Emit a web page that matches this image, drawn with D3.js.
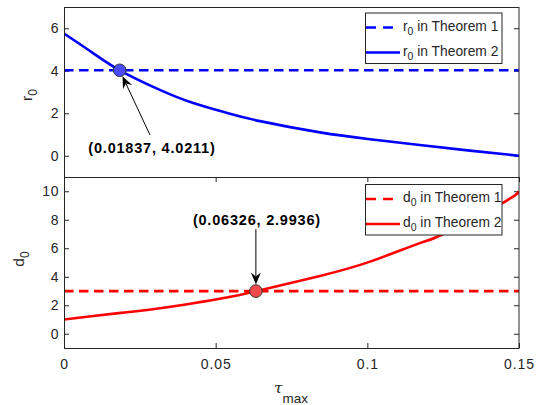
<!DOCTYPE html>
<html lang="en">
<head>
    <meta charset="UTF-8">
    <title>r0 and d0 versus tau_max</title>
    <script src="https://d3js.org/d3.v7.min.js"></script>
    <style>
        body {
            margin: 0;
            background: #fff;
            font-family: "Liberation Sans", Arial, sans-serif;
        }
        svg text {
            fill: #262626;
        }
        .tick text {
            font-size: 14px;
            letter-spacing: 0.9px;
        }
        .tick line, .domain {
            stroke: #262626;
        }
    </style>
</head>
<body>
    <div id="chart"></div>

    <script>
        // values
        const tauR = [0, 0.00967, 0.01837, 0.0316, 0.0426, 0.0536, 0.0646, 0.0844, 0.1009, 0.1173, 0.1338, 0.15];
        const r0Thm2 = [5.75, 4.82, 4.02, 3.10, 2.48, 2.02, 1.63, 1.10, 0.78, 0.506, 0.24, 0.0];
        const r0Thm1 = 4.0211;

        const tauD = [0, 0.00967, 0.0207, 0.0316, 0.0426, 0.0536, 0.06326, 0.0844, 0.1009, 0.1173, 0.125, 0.1445, 0.15];
        const d0Thm2 = [1.0, 1.25, 1.51, 1.79, 2.14, 2.54, 2.99, 4.06, 5.06, 6.36, 7.0, 9.17, 10];
        const d0Thm1 = 2.9936;

        const xTicks = [0, 0.05, 0.1, 0.15];
        const rTicks = [0, 2, 4, 6];
        const dTicks = [0, 2, 4, 6, 8, 10];

        const rCross = [0.01837, 4.0211];
        const dCross = [0.06326, 2.9936];
        const rLabelAt = [0.0290, 0.15];   // where the bold label sits (data units)
        const rTailAt = [0.02835, 0.976];
        const dLabelAt = [0.0636, 7.64];
        const dTailAt = [0.06326, 7.34];

        const width = 540, height = 405;
        const left = 64, right = 519;
        const tickLen = 5;

        const svg = d3.select("#chart").append("svg")
            .attr("width", width)
            .attr("height", height);

        const x = d3.scaleLinear().domain([0, 0.15]).range([left, right]);
        const yR = d3.scaleLinear().domain([-1, 7]).range([177, 7]);
        const yD = d3.scaleLinear().domain([-1, 11]).range([348, 177]);

        function drawPanel(y, ticks, showX) {
            const g = svg.append("g");
            const [y0, y1] = y.range();

            g.append("g")
                .attr("transform", `translate(${left},0)`)
                .call(d3.axisLeft(y).tickValues(ticks).tickSize(-tickLen).tickPadding(4.5).tickFormat(d3.format("d")))
                .call(a => a.select(".domain").remove());
            g.append("g")
                .attr("transform", `translate(${right},0)`)
                .call(d3.axisRight(y).tickValues(ticks).tickSize(-tickLen).tickFormat(""))
                .call(a => a.select(".domain").remove());

            if (showX) {
                g.append("g")
                    .attr("transform", `translate(0,${y0})`)
                    .call(d3.axisBottom(x).tickValues(xTicks).tickSize(-tickLen).tickPadding(11)
                        .tickFormat(d => d === 0 ? "0" : String(d)))
                    .call(a => a.select(".domain").remove());
                g.append("g")
                    .attr("transform", `translate(0,${y1})`)
                    .call(d3.axisTop(x).tickValues(xTicks).tickSize(-tickLen).tickFormat(""))
                    .call(a => a.select(".domain").remove());
            }
            g.selectAll(".tick text").style("fill", "#262626");
            return g;
        }

        drawPanel(yR, rTicks, false);
        drawPanel(yD, dTicks, true);

        svg.append("defs").selectAll("clipPath")
            .data([["clipR", yR], ["clipD", yD]])
            .join("clipPath")
            .attr("id", d => d[0])
            .append("rect")
            .attr("x", left)
            .attr("y", d => d[1].range()[1])
            .attr("width", right - left)
            .attr("height", d => d[1].range()[0] - d[1].range()[1]);

        function drawSeries(y, tau, vals, flat, color, clip) {
            const g = svg.append("g").attr("clip-path", `url(#${clip})`);
            g.append("line")
                .attr("x1", x(0)).attr("x2", x(0.15))
                .attr("y1", y(flat)).attr("y2", y(flat))
                .attr("stroke", color)
                .attr("stroke-width", 2.6)
                .attr("stroke-dasharray", "9.5,5.5");
            const line = d3.line()
                .x((d, i) => x(tau[i]))
                .y(d => y(d))
                .curve(d3.curveNatural);
            g.append("path")
                .datum(vals)
                .attr("d", line)
                .attr("fill", "none")
                .attr("stroke", color)
                .attr("stroke-width", 2.6);
        }

        drawSeries(yR, tauR, r0Thm2, r0Thm1, "#0000ff", "clipR");
        drawSeries(yD, tauD, d0Thm2, d0Thm1, "#ff0000", "clipD");

        // arrow with a notched head, tip stops at the marker edge
        function arrow(tail, centre, gap) {
            const dx = tail[0] - centre[0], dy = tail[1] - centre[1];
            const len = Math.hypot(dx, dy);
            const ux = dx / len, uy = dy / len;
            const tip = [centre[0] + ux * gap, centre[1] + uy * gap];
            const hl = 12, hw = 5, notch = 8;
            const px = -uy, py = ux;
            svg.append("line")
                .attr("x1", tail[0]).attr("y1", tail[1])
                .attr("x2", tip[0] + ux * notch).attr("y2", tip[1] + uy * notch)
                .attr("stroke", "#000").attr("stroke-width", 1);
            const p = [
                tip,
                [tip[0] + ux * hl + px * hw, tip[1] + uy * hl + py * hw],
                [tip[0] + ux * notch, tip[1] + uy * notch],
                [tip[0] + ux * hl - px * hw, tip[1] + uy * hl - py * hw]
            ];
            svg.append("path")
                .attr("d", "M" + p.map(q => q.join(",")).join("L") + "Z")
                .attr("fill", "#000");
        }

        function annotate(y, cross, labelAt, tailAt, fill) {
            const c = [x(cross[0]), y(cross[1])];
            arrow([x(tailAt[0]), y(tailAt[1])], c, 6.5);
            svg.append("circle")
                .attr("cx", c[0]).attr("cy", c[1]).attr("r", 6.3)
                .attr("fill", fill)
                .attr("stroke", "#333")
                .attr("stroke-width", 1);
            svg.append("text")
                .attr("x", x(labelAt[0]))
                .attr("y", y(labelAt[1]))
                .attr("text-anchor", "middle")
                .attr("font-size", 14.5)
                .attr("font-weight", "bold")
                .attr("letter-spacing", 0.8)
                .style("fill", "#000")
                .text(`(${cross[0]}, ${cross[1]})`);
        }

        annotate(yR, rCross, rLabelAt, rTailAt, "#4a4aff");
        annotate(yD, dCross, dLabelAt, dTailAt, "#f24a4a");

        // frames
        [yR, yD].forEach(y => {
            svg.append("rect")
                .attr("x", left + 0.5)
                .attr("y", y.range()[1] + 0.5)
                .attr("width", right - left - 0.5)
                .attr("height", y.range()[0] - y.range()[1])
                .attr("fill", "none")
                .attr("stroke", "#262626")
                .attr("stroke-width", 1);
        });

        function legend(top, sym, color) {
            const g = svg.append("g");
            g.append("rect")
                .attr("x", 365.5).attr("y", top + 0.5)
                .attr("width", 136.5).attr("height", 50.5)
                .attr("fill", "#fff")
                .attr("stroke", "#262626")
                .attr("stroke-width", 1);
            ["1", "2"].forEach((n, i) => {
                const yy = top + 15 + i * 25;
                g.append("line")
                    .attr("x1", 366).attr("x2", n === "1" ? 393 : 400)
                    .attr("y1", yy).attr("y2", yy)
                    .attr("stroke", color)
                    .attr("stroke-width", 2.6)
                    .attr("stroke-dasharray", n === "1" ? "10,7" : null);
                const t = g.append("text")
                    .attr("x", 403)
                    .attr("y", yy + 3)
                    .attr("font-size", 13.8);
                t.append("tspan").text(sym);
                t.append("tspan").attr("dy", 4).attr("font-size", 10.5).text("0");
                t.append("tspan").attr("dy", -4).text(" in Theorem " + n);
            });
        }

        legend(12.5, "r", "#0000ff");
        legend(184, "d", "#ff0000");

        // axis labels
        function yLabel(sym, bx, cy) {
            const t = svg.append("text")
                .attr("transform", `translate(${bx},${cy}) rotate(-90)`)
                .attr("text-anchor", "middle")
                .attr("font-size", 15.5);
            t.append("tspan").text(sym);
            t.append("tspan").attr("dy", 5).attr("font-size", 12).text("0");
        }
        yLabel("r", 32, 95);
        yLabel("d", 24, 259);

        const xl = svg.append("text")
            .attr("x", 291)
            .attr("y", 393)
            .attr("text-anchor", "middle")
            .attr("font-size", 15.5);
        xl.append("tspan").attr("font-style", "italic").attr("font-family", "'DejaVu Serif', serif").text("τ");
        xl.append("tspan").attr("dy", 10).attr("font-size", 13.5).text("max");
    </script>
</body>
</html>
